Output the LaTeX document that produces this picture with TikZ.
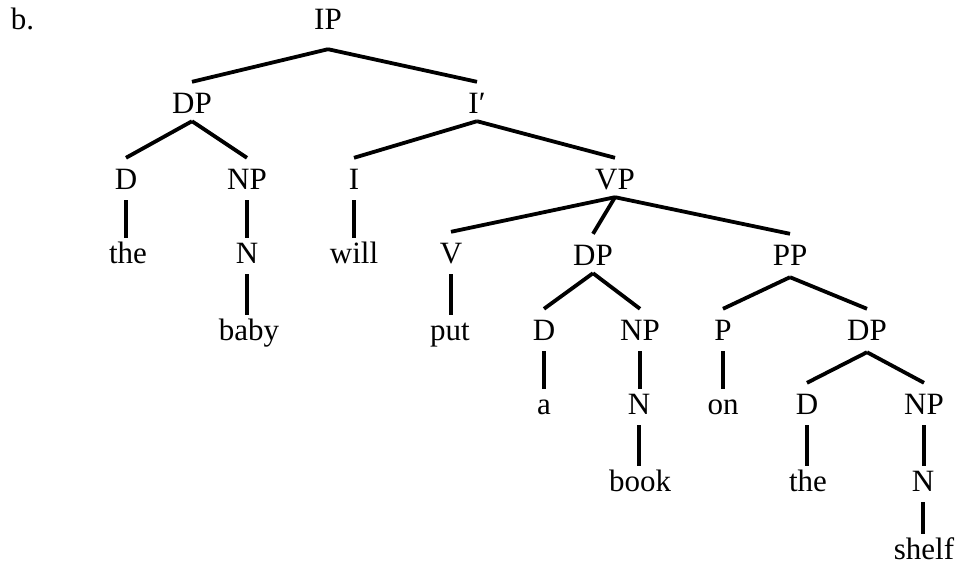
\documentclass[tikz,border=0pt]{standalone}
\usepackage{fontspec}
\setmainfont{Liberation Serif}
\begin{document}
\begin{tikzpicture}[x=1pt,y=-1pt,
  cat/.style={anchor=base,inner sep=0pt,text height=31pt,text depth=8pt,font=\fontsize{31}{36}\selectfont},
  branch/.style={line width=3.8pt},
  unary/.style={branch,shorten <=3pt,shorten >=-6pt}]
\useasboundingbox(0,0)rectangle(958,566);
\node[cat](ex)at(22.5,29){b.};
\node[cat,text depth=20pt](IP)at(328,29){IP};
\node[cat](DPa)at(192,113){DP};
\node[cat](Ibar)at(477,113){I′};
\node[cat](Da)at(126,189){D};
\node[cat](NPa)at(247,189){NP};
\node[cat](I)at(354,189){I};
\node[cat](VP)at(615,189){VP};
\node[cat](thea)at(128,263){the};
\node[cat](Na)at(247,263){N};
\node[cat](will)at(354,263){will};
\node[cat](V)at(451,263){V};
\node[cat](DPb)at(593,265){DP};
\node[cat,text depth=12pt](PP)at(790,265){PP};
\node[cat](baby)at(249,340){baby};
\node[cat](put)at(450,340){put};
\node[cat](Db)at(544,340){D};
\node[cat](NPb)at(640,340){NP};
\node[cat](P)at(723,340){P};
\node[cat,text depth=12pt](DPc)at(867,340){DP};
\node[cat](a)at(544,414){a};
\node[cat](Nb)at(639,414){N};
\node[cat](on)at(723,414){on};
\node[cat](Dc)at(807,414){D};
\node[cat](NPc)at(924,414){NP};
\node[cat](book)at(640,491){book};
\node[cat](theb)at(808,491){the};
\node[cat](Nc)at(923,491){N};
\node[cat](shelf)at(924,559){shelf};
\foreach \p/\c in {IP/DPa,IP/Ibar,DPa/Da,DPa/NPa,Ibar/I,Ibar/VP,VP/V,VP/DPb,VP/PP,DPb/Db,DPb/NPb,PP/P,PP/DPc,DPc/Dc,DPc/NPc}
  \draw[branch](\p.south)--(\c.north);
\foreach \p/\c in {Da/thea,NPa/Na,Na/baby,I/will,V/put,Db/a,NPb/Nb,Nb/book,P/on,Dc/theb,NPc/Nc,Nc/shelf}
  \draw[unary](\p.south)--(\p.south|-\c.north);
\end{tikzpicture}
\end{document}
